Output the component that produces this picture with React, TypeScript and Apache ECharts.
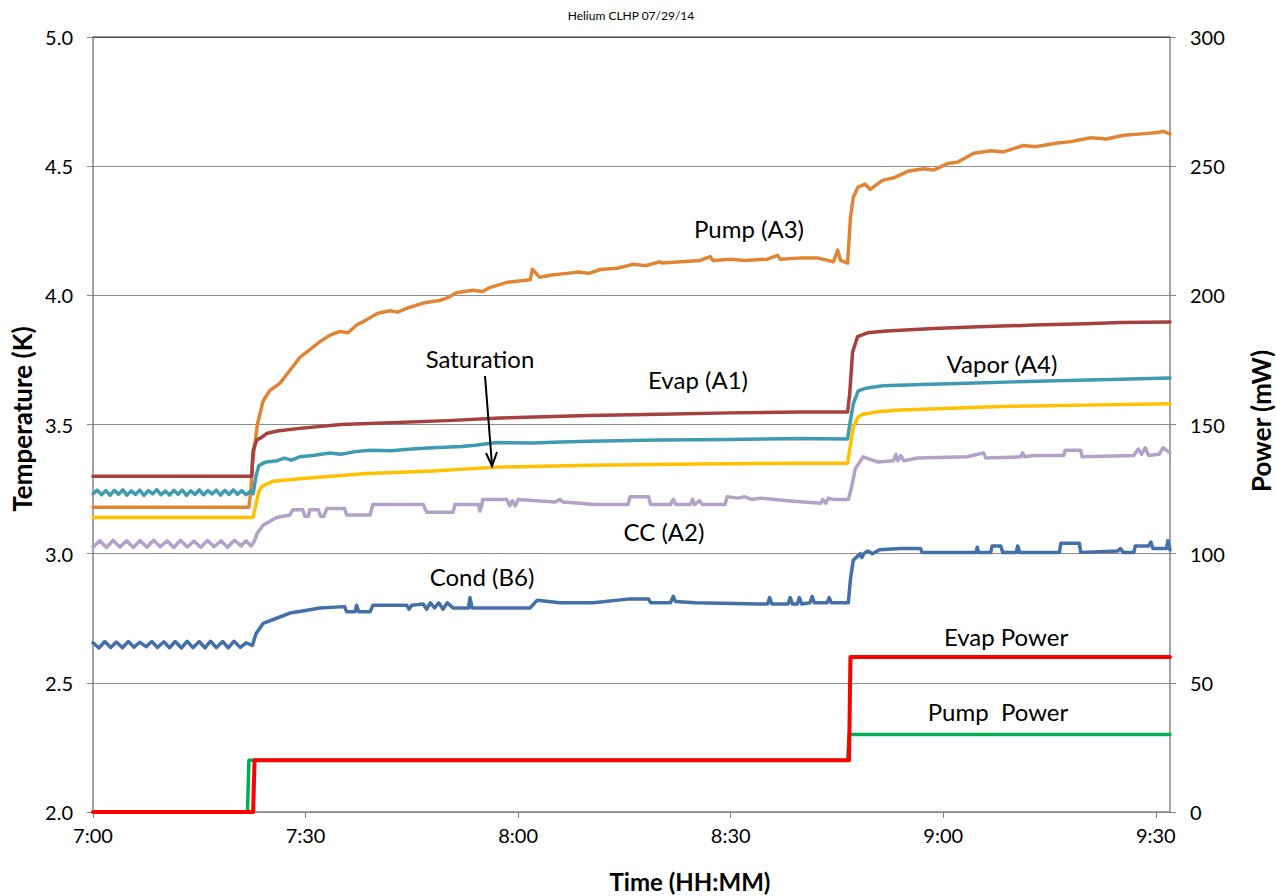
import React, { useEffect, useRef } from "react";
import * as echarts from "echarts";

// Time in minutes after 7:00, values in K (temperatures) or mW (power)
const xTickLabels = ["7:00", "7:30", "8:00", "8:30", "9:00", "9:30"];
const leftTicks = ["2.0", "2.5", "3.0", "3.5", "4.0", "4.5", "5.0"];

const pumpA3 = [
  [0, 3.18], [10, 3.18], [22.0, 3.18], [22.3, 3.25], [22.5, 3.35], [23.2, 3.5], [24.0, 3.59], [24.9, 3.63],
  [26.4, 3.66], [27.8, 3.71], [29.2, 3.76], [30.6, 3.79], [32.0, 3.82], [33.4, 3.845], [34.8, 3.86],
  [36, 3.855], [37.2, 3.885], [38.6, 3.905], [40.1, 3.93], [41.9, 3.94], [43, 3.935], [44.3, 3.95],
  [46.6, 3.97], [48.9, 3.98], [50, 3.99], [51.3, 4.01], [53.6, 4.02], [55, 4.015], [56.0, 4.03],
  [58.4, 4.05], [61.7, 4.06], [62.0, 4.1], [62.4, 4.09], [63, 4.07], [65, 4.08], [66.9, 4.085],
  [68.5, 4.09], [70, 4.085], [71.6, 4.1], [74, 4.105], [76.2, 4.12], [78, 4.115], [80.0, 4.13],
  [80.3, 4.125], [83, 4.13], [85.7, 4.135], [87.1, 4.15], [87.5, 4.135], [90, 4.14], [92, 4.135],
  [95.2, 4.14], [96.6, 4.155], [97, 4.14], [100, 4.145], [102.2, 4.145], [103, 4.14], [104.5, 4.13],
  [105.1, 4.175], [105.5, 4.135], [106.5, 4.125], [106.9, 4.3], [107.3, 4.38], [108.0, 4.42],
  [109.0, 4.43], [109.7, 4.41], [111.4, 4.445], [113, 4.455], [115.0, 4.48], [117.2, 4.49],
  [118.6, 4.485], [120.6, 4.51], [122, 4.515], [124.3, 4.55], [126.7, 4.56], [128.5, 4.555],
  [131.3, 4.58], [133, 4.575], [136.1, 4.59], [138, 4.595], [140.8, 4.61], [143, 4.605],
  [145.5, 4.62], [148, 4.625], [150.3, 4.63], [151, 4.635], [152, 4.625],
];

const evapA1 = [
  [0, 3.3], [22.4, 3.3], [22.6, 3.4], [23.1, 3.44], [23.8, 3.45], [24.5, 3.465], [26, 3.475],
  [29.2, 3.485], [35, 3.5], [40, 3.505], [50, 3.515], [57.4, 3.525], [70, 3.535], [80, 3.54],
  [90, 3.545], [100, 3.548], [106.5, 3.548], [106.8, 3.62], [107.2, 3.78], [107.9, 3.84],
  [109.3, 3.855], [112, 3.862], [118.6, 3.872], [125, 3.878], [132.8, 3.885], [140, 3.89],
  [145, 3.895], [152, 3.897],
];

const vaporA4 = [
  [0, 3.232], [0.6, 3.246], [1.2, 3.228], [1.8, 3.244], [2.4, 3.226], [3.0, 3.245], [3.6, 3.23],
  [4.2, 3.247], [4.8, 3.227], [5.4, 3.243], [6.0, 3.229], [6.6, 3.246], [7.2, 3.226], [7.8, 3.244],
  [8.4, 3.231], [9.0, 3.248], [9.6, 3.228], [10.2, 3.242], [10.8, 3.227], [11.4, 3.245], [12.0, 3.23],
  [12.6, 3.246], [13.2, 3.226], [13.8, 3.243], [14.4, 3.229], [15.0, 3.247], [15.6, 3.228],
  [16.2, 3.244], [16.8, 3.231], [17.4, 3.246], [18.0, 3.227], [18.6, 3.245], [19.2, 3.229],
  [19.8, 3.247], [20.4, 3.23], [21.0, 3.244], [21.6, 3.228], [22.2, 3.242], [22.6, 3.232],
  [23.0, 3.3], [23.4, 3.34], [24.0, 3.35], [24.5, 3.355], [26, 3.36], [27, 3.37], [28, 3.362],
  [29.2, 3.375], [31, 3.38], [33.4, 3.39], [35, 3.385], [37, 3.395], [39.1, 3.4], [42, 3.398],
  [45, 3.405], [48.0, 3.41], [52, 3.415], [54, 3.42], [57, 3.43], [62, 3.428], [66, 3.432],
  [70, 3.435], [80, 3.44], [90, 3.442], [100, 3.446], [106.5, 3.444], [106.8, 3.5], [107.3, 3.58],
  [108.0, 3.63], [109, 3.64], [111.5, 3.65], [117, 3.655], [123.4, 3.66], [130, 3.665],
  [137.6, 3.67], [145, 3.675], [152, 3.68],
];

const saturation = [
  [0, 3.14], [22.6, 3.14], [22.9, 3.18], [23.4, 3.24], [23.8, 3.26], [25.4, 3.28], [29.2, 3.29],
  [38.6, 3.31], [48, 3.32], [57, 3.335], [70, 3.342], [85, 3.347], [100, 3.35], [106.5, 3.35],
  [106.9, 3.42], [107.3, 3.49], [108.0, 3.53], [108.7, 3.54], [111, 3.55], [114, 3.556],
  [128.1, 3.57], [140, 3.575], [152, 3.58],
];

const ccA2 = [
  [0, 3.025], [0.95, 3.05], [1.9, 3.024], [2.85, 3.052], [3.8, 3.026], [4.75, 3.05], [5.7, 3.024],
  [6.65, 3.051], [7.6, 3.025], [8.55, 3.052], [9.5, 3.027], [10.45, 3.05], [11.4, 3.024],
  [12.35, 3.052], [13.3, 3.026], [14.25, 3.049], [15.2, 3.025], [16.15, 3.051], [17.1, 3.027],
  [18.05, 3.05], [19.0, 3.025], [19.95, 3.052], [20.9, 3.03], [21.6, 3.05], [22.3, 3.03],
  [22.7, 3.045], [23.2, 3.08], [24.0, 3.11], [25.9, 3.14], [27.8, 3.15], [28.2, 3.17], [29.6, 3.17],
  [29.9, 3.145], [30.4, 3.145], [30.6, 3.17], [31.8, 3.17], [32.1, 3.145], [32.6, 3.145],
  [33.0, 3.175], [35.5, 3.175], [35.8, 3.15], [39.1, 3.15], [39.5, 3.19], [46.6, 3.19], [47.1, 3.16],
  [50.8, 3.16], [51.1, 3.19], [54.4, 3.19], [54.6, 3.165], [54.8, 3.18], [55.0, 3.21], [58.4, 3.21],
  [58.8, 3.185], [59.2, 3.205], [59.6, 3.185], [60.0, 3.21], [65.2, 3.2], [65.9, 3.21], [66.3, 3.2],
  [68.7, 3.195], [70.6, 3.19], [75.5, 3.19], [75.8, 3.22], [78.4, 3.22], [78.7, 3.19], [81.5, 3.19],
  [81.9, 3.21], [82.3, 3.19], [84.3, 3.19], [84.6, 3.21], [84.9, 3.19], [85.6, 3.205], [86, 3.19],
  [89.2, 3.19], [89.5, 3.22], [91, 3.215], [92, 3.22], [93, 3.21], [94.2, 3.215], [98, 3.205],
  [102.7, 3.195], [103.0, 3.21], [103.4, 3.195], [103.8, 3.215], [104.5, 3.21], [106.6, 3.21],
  [107.0, 3.25], [107.6, 3.33], [108.7, 3.375], [110.7, 3.355], [113.0, 3.36], [113.3, 3.385],
  [113.6, 3.36], [114, 3.38], [114.4, 3.36], [116.4, 3.37], [123.4, 3.375], [125.7, 3.39],
  [126, 3.37], [130.9, 3.375], [131.2, 3.39], [131.5, 3.375], [132.8, 3.38], [137.0, 3.38],
  [137.2, 3.4], [139.4, 3.4], [139.6, 3.375], [146.9, 3.38], [147.5, 3.405], [148, 3.385],
  [148.5, 3.41], [149, 3.38], [150.5, 3.385], [151, 3.41], [152, 3.39],
];

const condB6 = [
  [0, 2.655], [0.83, 2.635], [1.66, 2.66], [2.5, 2.637], [3.3, 2.658], [4.15, 2.636], [5.0, 2.66],
  [5.8, 2.638], [6.6, 2.657], [7.5, 2.64], [8.3, 2.66], [9.1, 2.637], [10.0, 2.659], [10.8, 2.636],
  [11.6, 2.66], [12.5, 2.635], [13.3, 2.661], [14.1, 2.636], [15.0, 2.66], [15.8, 2.635],
  [16.6, 2.661], [17.4, 2.636], [18.3, 2.66], [19.1, 2.635], [19.9, 2.661], [20.8, 2.637],
  [21.6, 2.655], [22.5, 2.645], [23.0, 2.69], [24.0, 2.73], [25.9, 2.75], [27.8, 2.77], [30, 2.78],
  [32, 2.79], [35.5, 2.795], [35.8, 2.775], [37.0, 2.775], [37.2, 2.8], [37.5, 2.775], [39.1, 2.775],
  [39.5, 2.8], [44.3, 2.8], [44.6, 2.785], [45, 2.8], [46.6, 2.805], [47.1, 2.785], [47.6, 2.81],
  [48.2, 2.79], [48.8, 2.81], [49.4, 2.785], [50.0, 2.81], [50.8, 2.79], [53.0, 2.79], [53.2, 2.83],
  [53.5, 2.79], [61.7, 2.79], [62.7, 2.82], [65.9, 2.81], [70.6, 2.81], [75.8, 2.825], [78.4, 2.825],
  [78.7, 2.81], [81.5, 2.81], [81.9, 2.835], [82.2, 2.815], [85, 2.81], [94, 2.805], [95.2, 2.805],
  [95.5, 2.83], [95.8, 2.805], [98.1, 2.805], [98.4, 2.83], [98.7, 2.805], [99.4, 2.805],
  [99.7, 2.83], [100, 2.805], [101.2, 2.81], [101.5, 2.835], [101.8, 2.81], [103.6, 2.81],
  [103.9, 2.83], [104.2, 2.81], [106.6, 2.81], [106.9, 2.9], [107.3, 2.975], [108.3, 3.0],
  [108.5, 2.985], [108.8, 3.0], [109.3, 3.01], [110, 3.0], [111, 3.015], [114.0, 3.02],
  [116.8, 3.02], [117, 3.005], [124.6, 3.005], [124.8, 3.025], [125, 3.005], [126.7, 3.005],
  [126.9, 3.03], [128.1, 3.03], [128.4, 3.005], [130.3, 3.005], [130.5, 3.03], [130.8, 3.005],
  [136.4, 3.005], [136.6, 3.04], [139.2, 3.04], [139.4, 3.005], [144.6, 3.01], [145, 3.02],
  [145.4, 3.005], [146.9, 3.005], [147.1, 3.03], [149.0, 3.03], [149.3, 3.045], [149.6, 3.02],
  [151.5, 3.02], [151.7, 3.05], [152, 3.015],
];

const evapPower = [[0, 0], [22.6, 0], [22.8, 20], [106.7, 20], [106.9, 60], [152, 60]];
const pumpPower = [[0, 0], [21.8, 0], [22.0, 20], [106.5, 20], [106.7, 30], [152, 30]];

const FONT = "Lato, 'Noto Sans', sans-serif";
const AXIS_GRAY = "#868686";

export default function App() {
  const ref = useRef<HTMLDivElement>(null);
  useEffect(() => {
    document.body.style.margin = "0";
    const chart = echarts.init(ref.current!, null, { renderer: "svg" });
    const line = (name: string, data: number[][], color: string, width: number, yAxisIndex = 0) => ({
      name,
      type: "line",
      data,
      yAxisIndex,
      showSymbol: false,
      symbol: "none",
      lineStyle: { color, width, join: "round", cap: "round" },
      itemStyle: { color },
      z: 3,
    });
    const label = (text: string, x: number, y: number, size = 24) => ({
      type: "text",
      x,
      y,
      style: { text, fill: "#000", font: `${size}px ${FONT}`, textAlign: "center", textVerticalAlign: "middle" },
      z: 10,
    });
    chart.setOption({
      animation: false,
      backgroundColor: "#fff",
      grid: { left: 93, right: 106, top: 37, bottom: 84 },
      xAxis: {
        type: "value",
        min: 0,
        max: 152,
        interval: 30,
        axisLine: { show: true, lineStyle: { color: AXIS_GRAY, width: 1.5 } },
        axisTick: { show: true, length: 6, lineStyle: { color: AXIS_GRAY } },
        splitLine: { show: false },
        axisLabel: {
          showMaxLabel: false,
          margin: 13,
          color: "#000",
          fontFamily: FONT,
          fontSize: 20,
          formatter: (v: number) => (v % 30 === 0 ? xTickLabels[v / 30] ?? "" : ""),
        },
      },
      yAxis: [
        {
          type: "value",
          min: 2,
          max: 5,
          interval: 0.5,
          position: "left",
          axisLine: { show: true, lineStyle: { color: AXIS_GRAY, width: 1.5 } },
          axisTick: { show: true, length: 6, lineStyle: { color: AXIS_GRAY } },
          splitLine: { show: true, lineStyle: { color: "#8c8c8c", width: 1 } },
          axisLabel: {
            margin: 20,
            color: "#000",
            fontFamily: FONT,
            fontSize: 20,
            formatter: (v: number) => leftTicks[Math.round((v - 2) / 0.5)] ?? "",
          },
        },
        {
          type: "value",
          min: 0,
          max: 300,
          interval: 50,
          position: "right",
          axisLine: { show: true, lineStyle: { color: AXIS_GRAY, width: 1.5 } },
          axisTick: { show: true, length: 6, lineStyle: { color: AXIS_GRAY } },
          splitLine: { show: false },
          axisLabel: { margin: 20, color: "#000", fontFamily: FONT, fontSize: 20 },
        },
      ],
      series: [
        line("Pump (A3)", pumpA3, "#E08536", 3.5),
        line("Evap (A1)", evapA1, "#A5413F", 3.5),
        line("Vapor (A4)", vaporA4, "#3F9BB0", 3.5),
        line("Saturation", saturation, "#FFC000", 3.5),
        line("CC (A2)", ccA2, "#B3A2C7", 3.5),
        line("Cond (B6)", condB6, "#4470A8", 3.5),
        line("Pump Power", pumpPower, "#00B050", 3.5, 1),
        line("Evap Power", evapPower, "#FF0000", 4, 1),
      ],
      graphic: [
        { type: "line", shape: { x1: 93, y1: 37, x2: 1170, y2: 37 }, style: { stroke: "#222", lineWidth: 1 }, z: 5 },
        { type: "text", x: 631, y: 15, style: { text: "Helium CLHP 07/29/14", fill: "#000", font: `12px ${FONT}`, textAlign: "center", textVerticalAlign: "middle" } },
        { type: "text", x: 690, y: 881, style: { text: "Time (HH:MM)", fill: "#000", font: `bold 24px ${FONT}`, textAlign: "center", textVerticalAlign: "middle" } },
        { type: "text", x: 22, y: 419, rotation: Math.PI / 2, style: { text: "Temperature (K)", fill: "#000", font: `bold 26px ${FONT}`, textAlign: "center", textVerticalAlign: "middle" } },
        { type: "text", x: 1261, y: 421, rotation: Math.PI / 2, style: { text: "Power (mW)", fill: "#000", font: `bold 26px ${FONT}`, textAlign: "center", textVerticalAlign: "middle" } },
        label("Pump (A3)", 749, 228),
        label("Saturation", 480, 358),
        label("Evap (A1)", 698, 379),
        label("Vapor (A4)", 1002, 363),
        label("CC (A2)", 664, 531),
        label("Cond (B6)", 482, 576),
        label("Evap Power", 1006, 636),
        label("Pump  Power", 998, 711),
        { type: "line", shape: { x1: 485, y1: 376, x2: 492, y2: 465 }, style: { stroke: "#000", lineWidth: 2 }, z: 10 },
        { type: "polyline", shape: { points: [[486, 453], [492, 466], [497, 452]] }, style: { stroke: "#000", lineWidth: 2, fill: null }, z: 10 },
      ],
    });
    return () => chart.dispose();
  }, []);
  return <div ref={ref} style={{ position: "absolute", left: 0, top: 0, width: 1276, height: 896, background: "#fff" }} />;
}
